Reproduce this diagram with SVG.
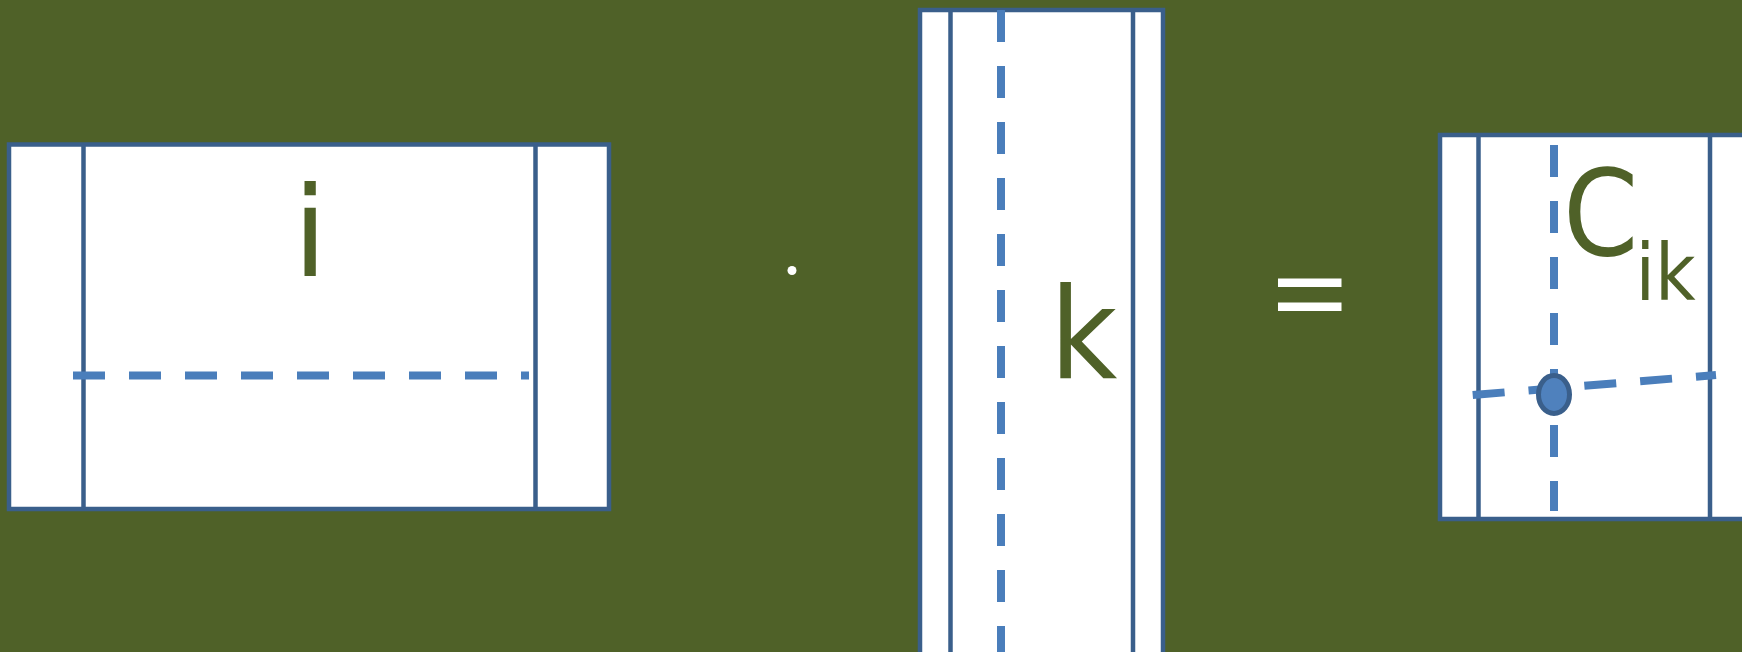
<svg xmlns="http://www.w3.org/2000/svg" width="1742" height="652" viewBox="0 0 1742 652">
<style>
.box{fill:#FFFFFF;stroke:#3A5F8B;stroke-width:4.5}
.div{stroke:#3A5F8B;stroke-width:4.5;fill:none}
.dash{stroke:#4A7EBB;stroke-width:8;fill:none;stroke-dasharray:32 24}
.lbl{font-family:"DejaVu Sans",sans-serif;fill:#4F6128}
</style>
<rect x="0" y="0" width="1742" height="652" fill="#4F6128"/>
<g id="matrixA">
<rect class="box" x="9" y="144.5" width="600" height="364.5"/>
<line class="div" x1="83.5" y1="144.5" x2="83.5" y2="509"/>
<line class="div" x1="535.5" y1="144.5" x2="535.5" y2="509"/>
<line class="dash" x1="73" y1="375.5" x2="529" y2="375.5"/>
<text class="lbl" x="310" y="275.5" font-size="125" text-anchor="middle">i</text>
</g>
<g id="dot">
<circle cx="792" cy="270.5" r="4.5" fill="#FFFFFF"/>
</g>
<g id="matrixB">
<rect class="box" x="920" y="10" width="243" height="660"/>
<line class="div" x1="950.5" y1="10" x2="950.5" y2="670"/>
<line class="div" x1="1133" y1="10" x2="1133" y2="670"/>
<line class="dash" x1="1001" y1="10" x2="1001" y2="652"/>
<text class="lbl" transform="translate(1058,378) scale(0.92,1)" x="-9" y="0" font-size="127">k</text>
</g>
<g id="equals">
<rect x="1278" y="278.5" width="63.5" height="8.5" fill="#FFFFFF"/>
<rect x="1278" y="302.5" width="63.5" height="8.5" fill="#FFFFFF"/>
</g>
<g id="matrixC">
<rect class="box" x="1440" y="135" width="310" height="384"/>
<line class="div" x1="1478.5" y1="135" x2="1478.5" y2="519"/>
<line class="div" x1="1710" y1="135" x2="1710" y2="519"/>
<line class="dash" x1="1554" y1="145" x2="1554" y2="511"/>
<line class="dash" x1="1472.7" y1="395" x2="1716" y2="375"/>
<ellipse id="cik-point" cx="1554" cy="394.5" rx="15.5" ry="19" fill="#4F81BD" stroke="#3A5F8B" stroke-width="5"/>
<text class="lbl" transform="translate(1568,255) scale(0.9,1)" x="-5.6" y="0" font-size="120">C</text>
<text class="lbl" transform="translate(1640,300) scale(0.9,1)" x="-5" y="0" font-size="78">ik</text>
</g>
</svg>
